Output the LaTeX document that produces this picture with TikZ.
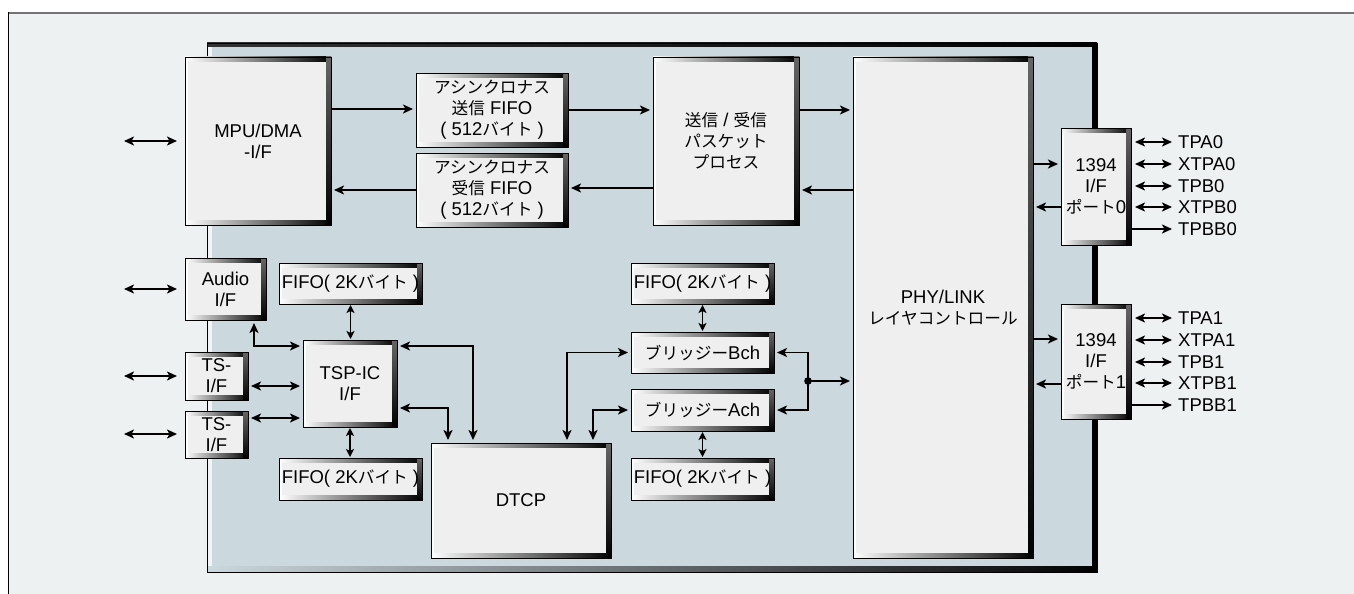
\documentclass[tikz,border=0pt]{standalone}
\usepackage{fontspec}
\setmainfont{Liberation Sans}
\newfontfamily\jpf{Noto Sans CJK JP}[Scale=0.9]
\newcommand\jp[1]{{\jpf #1}}
\usetikzlibrary{arrows.meta,calc}
\definecolor{bgc}{HTML}{EDF1F1}
\definecolor{boardc}{HTML}{CBD8DD}
\definecolor{boxc}{HTML}{EFEFEF}
\tikzset{
  bev/.style={draw=black, line width=0.9pt, fill=boxc, inner sep=0pt, outer sep=0pt, align=center,
    font=\fontsize{18.5}{21}\selectfont,
    path picture={
      \shade[left color=white, middle color=black!40, right color=black] (path picture bounding box.north west) rectangle ([yshift=-4.5pt]path picture bounding box.north east);
      \shade[left color=white, middle color=black!25, right color=black] ([yshift=4.5pt]path picture bounding box.south west) rectangle (path picture bounding box.south east);
      \fill[white] ([yshift=-4.5pt]path picture bounding box.north west) rectangle ([xshift=3pt,yshift=4.5pt]path picture bounding box.south west);
      \shade[top color=black!60, bottom color=black] ([xshift=-5pt]path picture bounding box.north east) rectangle (path picture bounding box.south east);
    }},
  tip/.tip={Stealth[length=10pt,width=9pt,inset=2.5pt]},
  stip/.tip={Stealth[length=8pt,width=8pt,inset=2pt]},
  arr/.style={line width=1.8pt, -tip, shorten >=3pt},
  dbl/.style={line width=1.8pt, tip-tip, shorten >=3pt, shorten <=3pt},
  sdbl/.style={line width=1.8pt, stip-stip, shorten >=1pt, shorten <=1pt},
  lbl/.style={font=\fontsize{18.5}{21}\selectfont, anchor=west, inner sep=0pt},
}
\newcommand\bx[6]{\node[bev, minimum width={(#4-#2)*1pt}, minimum height={(#5-#3)*1pt}] (#1) at ({(#2+#4)/2},{(#3+#5)/2}) {#6};}
\begin{document}
\begin{tikzpicture}[x=1pt,y=-1pt]
\useasboundingbox (0,0) rectangle (1354,594);
% outer frame
\fill[bgc] (8,12) rectangle (1354,594);
\draw[black!55, line width=2pt] (8,13) -- (1354,13);
\draw[black, line width=1pt] (8,12) -- (8,594);
% board
\fill[boardc] (207,43) rectangle (1097,572);
\fill[white!75!boardc] (208,46) rectangle (212,567);
\shade[left color=boardc, right color=black] (207,566) rectangle (1097,572);
\shade[left color=black!80, right color=black] (207,43) rectangle (1097,47);
\fill[black] (1092,43) rectangle (1097,572);
\draw[line width=0.9pt] (207,43) rectangle (1097,572);
% boxes
\bx{mpu}{185}{57}{331}{225}{MPU/DMA\\-I/F}
\bx{afs}{416}{73}{568}{147}{\jp{アシンクロナス}\\\jp{送信} FIFO\\( 512\jp{バイト} )}
\bx{afr}{416}{153}{568}{227}{\jp{アシンクロナス}\\\jp{受信} FIFO\\( 512\jp{バイト} )}
\bx{pkt}{653}{57}{799}{225}{\jp{送信} / \jp{受信}\\\jp{パスケット}\\\jp{プロセス}}
\bx{phy}{853}{57}{1033}{558}{PHY/LINK\\\jp{レイヤコントロール}}
\bx{p0}{1061}{128}{1131}{245}{1394\\I/F\\\jp{ポート}0}
\bx{p1}{1061}{304}{1131}{419}{1394\\I/F\\\jp{ポート}1}
\bx{aud}{185}{258}{266}{320}{Audio\\I/F}
\bx{ts1}{185}{352}{248}{400}{TS-\\I/F}
\bx{ts2}{185}{411}{248}{458}{TS-\\I/F}
\bx{tsp}{303}{340}{397}{427}{TSP-IC\\I/F}
\bx{fa}{279}{263}{422}{304}{FIFO( 2K\jp{バイト} )}
\bx{fb}{279}{458}{422}{500}{FIFO( 2K\jp{バイト} )}
\bx{dtcp}{431}{443}{611}{558}{DTCP}
\bx{bch}{631}{332}{774}{373}{\jp{ブリッジー}Bch}
\bx{ach}{631}{389}{774}{431}{\jp{ブリッジー}Ach}
\bx{fc}{631}{263}{774}{304}{FIFO( 2K\jp{バイト} )}
\bx{fd}{631}{458}{774}{500}{FIFO( 2K\jp{バイト} )}
% left free arrows
\coordinate (lmpu) at (121,141);
\coordinate (laud) at (121,289);
\coordinate (lts1) at (121,376);
\coordinate (lts2) at (121,434);
\draw[dbl, shorten >=8pt] (lmpu) -- (lmpu -| mpu.west);
\draw[dbl, shorten >=8pt] (laud) -- (laud -| aud.west);
\draw[dbl, shorten >=8pt] (lts1) -- (lts1 -| ts1.west);
\draw[dbl, shorten >=8pt] (lts2) -- (lts2 -| ts2.west);
% top row arrows
\draw[arr] (mpu.east |- 0,109) -- (afs.west |- 0,109);
\draw[arr] (afr.west |- 0,190) -- (mpu.east |- 0,190);
\draw[arr] (afs.east |- 0,110) -- (pkt.west |- 0,110);
\draw[arr] (pkt.west |- 0,188) -- (afr.east |- 0,188);
\draw[arr] (pkt.east |- 0,110) -- (phy.west |- 0,110);
\draw[arr] (phy.west |- 0,190) -- (pkt.east |- 0,190);
% phy <-> ports
\draw[arr] (phy.east |- 0,164) -- (p0.west |- 0,164);
\draw[arr] (p0.west |- 0,207) -- (phy.east |- 0,207);
\draw[arr] (phy.east |- 0,339) -- (p1.west |- 0,339);
\draw[arr] (p1.west |- 0,384) -- (phy.east |- 0,384);
% pins
\coordinate (pinx) at (1175,0);
\foreach \yy/\lab in {142/TPA0,164/XTPA0,186/TPB0,207/XTPB0,318/TPA1,340/XTPA1,362/TPB1,383/XTPB1}{
  \draw[dbl, shorten <=0pt] ([xshift=4pt]p0.east |- 0,\yy) -- (pinx |- 0,\yy);
  \node[lbl, name=pin\lab] at (1178,\yy) {\lab};
}
\draw[arr] (p0.east |- 0,229) -- (pinx |- 0,229);
\node[lbl, name=pinTPBB0] at (1178,229) {TPBB0};
\draw[arr] (p1.east |- 0,405) -- (pinx |- 0,405);
\node[lbl, name=pinTPBB1] at (1178,405) {TPBB1};
% TSP area
\draw[dbl] (aud.south -| 254,0) |- (tsp.west |- 0,346);
\draw[dbl] (ts1.east |- 0,386) -- (tsp.west |- 0,386);
\draw[dbl] (ts2.east |- 0,418) -- (tsp.west |- 0,418);
\draw[sdbl] (fa.south) -- (fa.south |- tsp.north);
\draw[sdbl] (tsp.south) -- (tsp.south |- fb.north);
\draw[dbl] (tsp.east |- 0,346) -| (dtcp.north -| 473,0);
\draw[dbl] (tsp.east |- 0,408) -| (dtcp.north -| 448,0);
% bridge area
\draw[dbl] (dtcp.north -| 567,0) |- (bch.west);
\draw[dbl] (dtcp.north -| 593,0) |- (ach.west);
\draw[sdbl] (fc.south) -- (fc.south |- bch.north);
\draw[sdbl] (ach.south) -- (ach.south |- fd.north);
\coordinate (jn) at (808,381);
\draw[arr] (jn) |- (bch.east);
\draw[arr] (jn) |- (ach.east);
\draw[arr] (jn) -- (phy.west |- jn);
\fill (jn) circle (3.8);
\end{tikzpicture}
\end{document}
